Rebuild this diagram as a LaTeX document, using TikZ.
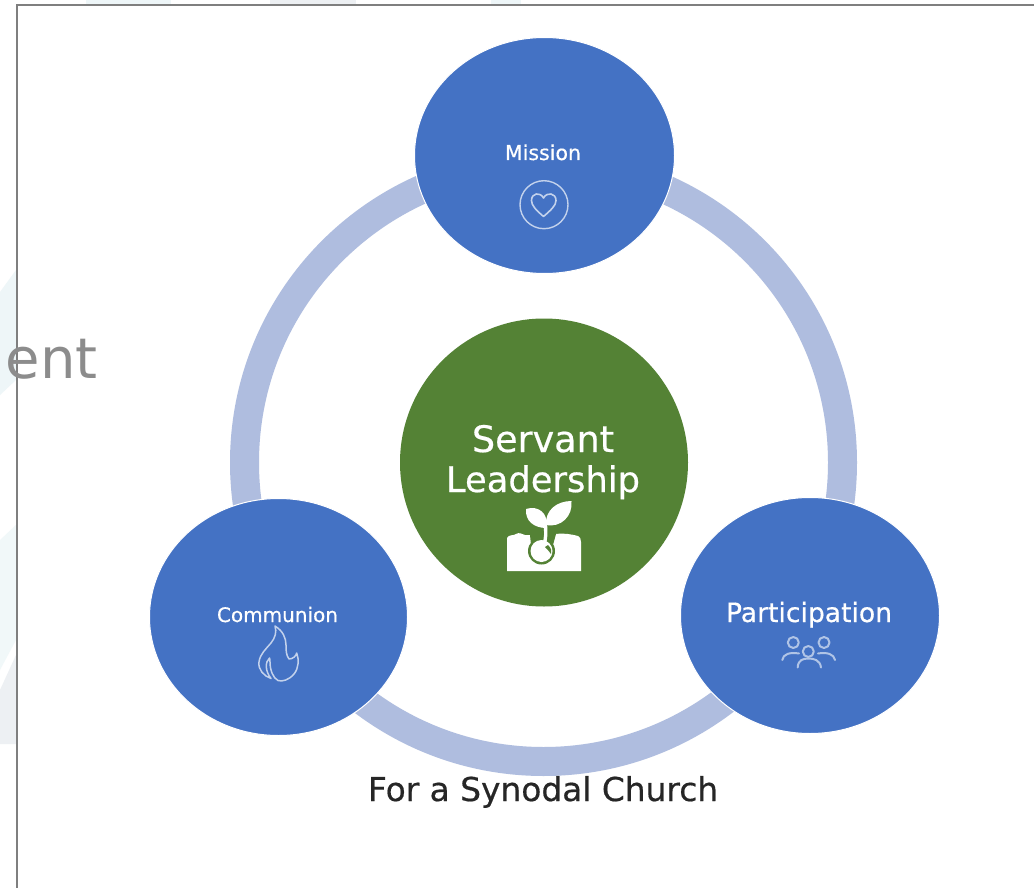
\documentclass[tikz,border=0pt]{standalone}
\usepackage{fontspec}
\setmainfont[FakeBold=0.5,AutoFakeBold=false]{DejaVu Sans}
\newfontfamily\entfont{DejaVu Sans}
\newfontfamily\labfont[RawFeature={embolden=0.5}]{DejaVu Sans}
\usetikzlibrary{shapes.geometric}
\definecolor{discblue}{HTML}{4472C4}
\definecolor{discgreen}{HTML}{548235}
\definecolor{ringblue}{HTML}{AFBDDF}
\definecolor{framegray}{HTML}{7F7F7F}
\definecolor{paleteal}{HTML}{EEF6F8}
\definecolor{palegray}{HTML}{EDF0F3}
\definecolor{iconpale}{HTML}{C3D2EC}
\tikzset{
  x=1pt,y=-1pt,
  disc/.style={ellipse,fill=discblue,draw=white,line width=1pt,inner sep=0pt},
  label/.style={anchor=base,inner sep=0pt,outer sep=0pt,text=white,font=\labfont},
  icon/.style={draw=iconpale,line width=1.5pt,line cap=round,line join=round}
}
\newcommand{\fitw}[2]{\resizebox{#1pt}{!}{#2}}
\begin{document}
\begin{tikzpicture}
\useasboundingbox (0,0) rectangle (1034,888);
\fill[white] (0,0) rectangle (1034,888);
% background tints outside the frame
\fill[paleteal] (0,292) -- (16,270) -- (16,380) -- (0,395) -- cycle;
\fill[paleteal!80] (0,540) -- (16,525) -- (16,640) -- (0,670) -- cycle;
\fill[palegray] (0,690) -- (16,655) -- (16,744) -- (0,744) -- cycle;
\fill[paleteal] (86,0) rectangle (171,4);
\fill[palegray] (270,0) rectangle (356,4);
\fill[paleteal] (491,0) rectangle (521,4);
% frame
\coordinate (frameTL) at (17,5);
\coordinate (frameTR) at (1034,5);
\coordinate (frameBL) at (17,888);
\draw[framegray,line width=2pt] (frameTR) -- (frameTL) -- (frameBL);
\node[anchor=base east,inner sep=0pt,text=framegray!90] (ent) at (98,378) {\fontsize{56pt}{60pt}\entfont ent};
% ring
\coordinate (ringC) at (543.5,462.5);
\draw[ringblue,line width=29pt] (ringC) circle[radius=299];
% discs
\node[disc,minimum width=260pt,minimum height=236pt] (mission) at (544.5,155.5) {};
\node[disc,minimum width=258pt,minimum height=237pt] (communion) at (278.5,617) {};
\node[disc,minimum width=259pt,minimum height=236pt] (participation) at (810,615.5) {};
\node[ellipse,fill=discgreen,inner sep=0pt,minimum width=288pt,minimum height=288pt] (servant) at (544,462.5) {};
% labels
\node[label] (tMission) at (543,160) {\fitw{76}{Mission}};
\node[label] (tCommunion) at (277.5,622) {\fitw{121}{Communion}};
\node[label] (tParticipation) at (809,622) {\fitw{166}{Participation}};
\node[label] (tServant) at (543,452) {\fitw{142}{Servant}};
\node[label] (tLeadership) at (543,492) {\fitw{194}{Leadership}};
\node[label,text=black!85] (tSynodal) at (543,801) {\fitw{350}{For a Synodal Church}};
% heart icon
\draw[icon,line width=1.4pt] (544,204.7) circle[radius=24];
\draw[icon,line width=1.6pt] (543.5,216.5) .. controls (536,210) and (531.5,205.5) .. (531.5,200.5)
  .. controls (531.5,193) and (540,191.5) .. (543.5,198)
  .. controls (547,191.5) and (556,193) .. (556,200.5)
  .. controls (556,205.5) and (551,210) .. (543.5,216.5) -- cycle;
% flame icon
\draw[icon] (275,626) .. controls (283,631) and (286,638) .. (286,645)
  .. controls (286,650) and (286,655) .. (289,659)
  .. controls (293,659) and (296,656) .. (296.7,653)
  .. controls (299,659) and (299,668) .. (294,674)
  .. controls (289,680) and (282,682) .. (278,680.5)
  .. controls (273,678) and (270,670) .. (270,662)
  .. controls (270,660) and (270,659) .. (269.5,658)
  .. controls (265,662) and (265,671) .. (271,678.5)
  .. controls (264,676) and (258,670) .. (259,662)
  .. controls (260,654) and (266,649) .. (271,643)
  .. controls (275,638) and (277,632) .. (275,626) -- cycle;
% people icon
\draw[icon,line width=2pt,draw=iconpale!85!discblue] (793.3,642.5) circle[radius=5.5];
\draw[icon,line width=2pt,draw=iconpale!85!discblue] (824,642.5) circle[radius=5.5];
\draw[icon,line width=2pt,draw=iconpale!85!discblue] (808.3,651.5) circle[radius=5.5];
\draw[icon,line width=2pt,draw=iconpale!85!discblue] (782.3,660) .. controls (783,654) and (790,652) .. (799,653.5);
\draw[icon,line width=2pt,draw=iconpale!85!discblue] (835,660) .. controls (834,654) and (827,652) .. (818,653.5);
\draw[icon,line width=2pt,draw=iconpale!85!discblue] (797.7,667.5) .. controls (798,660) and (803,658.5) .. (808.5,658.5)
  .. controls (814,658.5) and (820,660) .. (821,667.5);
% sprout icon
\fill[white] (507,571) -- (507,538) .. controls (509,534) and (514,536) .. (516,534)
  .. controls (519,532) and (522,534) .. (525,535) -- (530,535)
  -- (535,541) -- (550,541) -- (556,534)
  .. controls (564,533) and (570,534) .. (578,536)
  .. controls (580,537) and (581,539) .. (581,542) -- (581,571) -- cycle;
\fill[discgreen] (541.5,551) circle[radius=13.5];
\fill[discgreen] (530,535) -- (556,534) -- (553,545) -- (531,545) -- cycle;
\fill[white] (541.5,551) circle[radius=11];
\fill[discgreen] (548,545) .. controls (551,548) and (552,551) .. (551,554)
  .. controls (549,551) and (547,549) .. (545,547) -- cycle;
\draw[white,line width=3.4pt,line cap=round] (543,546) .. controls (547,538) and (545.5,532) .. (545.5,524);
\fill[white] (526,509) .. controls (538,505) and (549,513) .. (546.5,528)
  .. controls (534,528) and (525,521) .. (526,509) -- cycle;
\fill[white] (571.5,501) .. controls (573,516) and (561,528) .. (546,525)
  .. controls (545,510) and (557,501) .. (571.5,501) -- cycle;
\end{tikzpicture}
\end{document}
